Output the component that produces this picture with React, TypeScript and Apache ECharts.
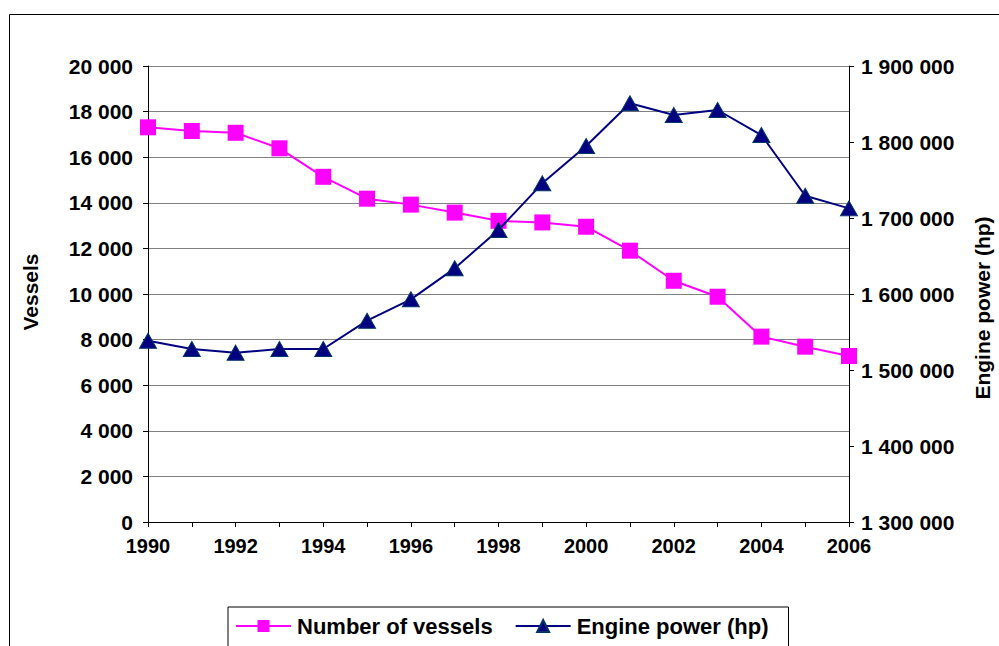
import React, { useEffect, useRef } from "react";
import * as echarts from "echarts";

const years = ["1990","1991","1992","1993","1994","1995","1996","1997","1998","1999","2000","2001","2002","2003","2004","2005","2006"];
const vessels = [17310, 17150, 17070, 16390, 15140, 14180, 13920, 13570, 13210, 13140, 12950, 11900, 10580, 9880, 8130, 7690, 7280];
const enginePower = [1538500, 1527600, 1522800, 1527600, 1527600, 1564900, 1593000, 1633800, 1684200, 1745600, 1794700, 1850900, 1835500, 1842100, 1809200, 1729300, 1712700];
const seriesNames = ["Number of vessels", "Engine power (hp)"];
const axisNames = ["Vessels", "Engine power (hp)"];

const FONT = "'Liberation Sans', Arial, sans-serif";
const fmt = (v: number) => String(v).replace(/\B(?=(\d{3})+(?!\d))/g, " ");

export default function App() {
  const ref = useRef<HTMLDivElement>(null);
  useEffect(() => {
    if (!ref.current) return;
    const chart = echarts.init(ref.current, null, { renderer: "svg" });
    const labelStyle = { color: "#000", fontFamily: FONT, fontWeight: "bold" as const, fontSize: 21 };
    chart.setOption({
      animation: false,
      backgroundColor: "#fff",
      textStyle: { fontFamily: FONT },
      grid: { left: 148, right: 150, top: 66, bottom: 124, containLabel: false },
      xAxis: {
        type: "category",
        data: years,
        boundaryGap: false,
        axisLine: { lineStyle: { color: "#000", width: 1 } },
        axisTick: { show: true, interval: 0, length: 5, lineStyle: { color: "#000" } },
        axisLabel: { ...labelStyle, fontSize: 20, interval: 1, margin: 14 },
        splitLine: { show: false },
      },
      yAxis: [
        {
          type: "value",
          min: 0,
          max: 20000,
          interval: 2000,
          axisLine: { show: true, lineStyle: { color: "#000", width: 1 } },
          axisTick: { show: true, length: 5, lineStyle: { color: "#000" } },
          axisLabel: { ...labelStyle, margin: 15, formatter: (v: number) => fmt(v) },
          splitLine: { show: true, lineStyle: { color: "#808080", width: 1 } },
        },
        {
          type: "value",
          min: 1300000,
          max: 1900000,
          interval: 100000,
          position: "right",
          axisLine: { show: true, lineStyle: { color: "#000", width: 1 } },
          axisTick: { show: true, length: 5, lineStyle: { color: "#000" } },
          axisLabel: { ...labelStyle, margin: 12, formatter: (v: number) => fmt(v) },
          splitLine: { show: false },
        },
      ],
      legend: {
        left: 228,
        top: 607,
        orient: "horizontal",
        borderColor: "#000",
        borderWidth: 1,
        padding: [8, 20, 14, 7],
        itemGap: 22,
        itemWidth: 55,
        itemHeight: 15,
        textStyle: { ...labelStyle, fontSize: 22, padding: [0, 0, 0, 1] },
        data: seriesNames,
      },
      series: [
        {
          name: seriesNames[0],
          type: "line",
          yAxisIndex: 0,
          data: vessels,
          symbol: "rect",
          symbolSize: 16,
          lineStyle: { color: "#FF00FF", width: 2 },
          itemStyle: { color: "#FF00FF" },
          z: 3,
        },
        {
          name: seriesNames[1],
          type: "line",
          yAxisIndex: 1,
          data: enginePower,
          symbol: "triangle",
          symbolSize: [17, 15],
          lineStyle: { color: "#000080", width: 2 },
          itemStyle: { color: "#000080", borderColor: "#003366", borderWidth: 1 },
          z: 4,
        },
      ],
      graphic: [
        { type: "line", shape: { x1: 9.5, y1: 14.5, x2: 999, y2: 14.5 }, style: { stroke: "#000", lineWidth: 1 } },
        { type: "line", shape: { x1: 9.5, y1: 14.5, x2: 9.5, y2: 646 }, style: { stroke: "#000", lineWidth: 1 } },
        {
          type: "text",
          x: 30,
          y: 292,
          rotation: Math.PI / 2,
          style: { text: axisNames[0], fill: "#000", font: `bold 21px ${FONT}`, textAlign: "center", textVerticalAlign: "middle" },
        },
        {
          type: "text",
          x: 982,
          y: 308,
          rotation: Math.PI / 2,
          style: { text: axisNames[1], fill: "#000", font: `bold 21px ${FONT}`, textAlign: "center", textVerticalAlign: "middle" },
        },
      ],
    });
    return () => chart.dispose();
  }, []);
  return <div ref={ref} style={{ width: 999, height: 646, position: "absolute", left: 0, top: 0 }} />;
}
